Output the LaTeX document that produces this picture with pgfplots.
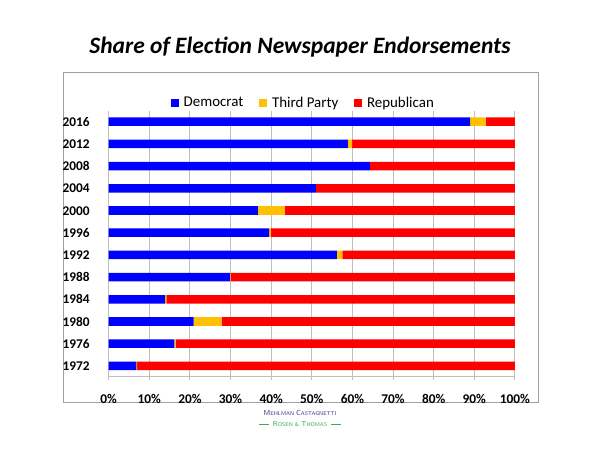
\documentclass[border=0pt]{standalone}
\usepackage{pgfplots}
\pgfplotsset{compat=1.18}
\usepackage{fontspec}
\setmainfont{Carlito}
\definecolor{dem}{HTML}{0000FF}
\definecolor{thd}{HTML}{FFC000}
\definecolor{rep}{HTML}{FF0000}
\definecolor{gridc}{HTML}{BFBFBF}
\definecolor{logob}{HTML}{3B3D8F}
\definecolor{logog}{HTML}{3AAA5A}
\pgfplotstableread{
idx D T R
0 6.8 0.2 93.0
1 16.2 0.3 83.5
2 20.9 6.9 72.2
3 13.9 0.3 85.8
4 29.9 0.1 70.0
5 56.2 1.3 42.5
6 39.5 0.4 60.1
7 36.7 6.6 56.7
8 51.0 0.0 49.0
9 64.3 0.0 35.7
10 58.9 1.0 40.1
11 89.0 3.8 7.2
}\data
\newcommand{\bigs}{\fontsize{5.4}{6}\selectfont}
\newcommand{\smls}{\fontsize{4.1}{5}\selectfont}
\begin{document}
\begin{tikzpicture}
\path[fill=white] (0,0) rectangle (450pt,337.5pt);
\draw[gray!75,line width=0.75pt] (47.25pt,35.25pt) rectangle (403.5pt,282.75pt);
\node[font=\fontsize{17.6}{20}\selectfont\bfseries\itshape] at (225pt,302.25pt) {Share of Election Newspaper Endorsements};
\begin{axis}[
  at={(81.5pt,54.75pt)}, anchor=south west,
  scale only axis, width=304.7pt, height=199.8pt,
  xbar stacked, bar width=6.4pt,
  xmin=0, xmax=100, ymin=-0.5, ymax=11.5,
  xtick={0,10,...,100},
  xticklabels={0\%,10\%,20\%,30\%,40\%,50\%,60\%,70\%,80\%,90\%,100\%},
  ytick={0,...,11},
  yticklabels={1972,1976,1980,1984,1988,1992,1996,2000,2004,2008,2012,2016},
  minor ytick={-0.5,0.5,...,11.5},
  tick align=outside,
  xtick style={draw=gridc, line width=0.75pt, /pgfplots/major tick length=2.5pt},
  ytick style={draw=none, /pgfplots/major tick length=0pt},
  minor tick style={draw=gridc, line width=0.75pt},
  minor tick length=2.5pt,
  axis x line*=bottom, axis y line*=left,
  axis line style={draw=gridc, line width=0.75pt, -},
  xmajorgrids, major grid style={draw=gridc, line width=0.75pt},
  /pgf/number format/assume math mode=true,
  xticklabel style={font=\fontsize{10}{12}\selectfont\bfseries, inner sep=0pt, anchor=base, yshift=-15.4pt},
  yticklabel style={font=\fontsize{10}{12}\selectfont\bfseries, inner sep=0pt, anchor=base east, yshift=-3.4pt, xshift=-9.75pt},
  legend columns=3,
  legend style={at={(0.5,1)}, anchor=center, yshift=5.7pt, xshift=-6pt, draw=none, fill=none,
    font=\fontsize{11.2}{13}\selectfont,
    /tikz/every odd column/.append style={column sep=1.5pt},
    /tikz/every even column/.append style={column sep=10pt}},
  legend image code/.code={\fill[#1] (0pt,-3pt) rectangle (6pt,3pt);},
]
\addplot[fill=dem, draw=none] table[x=D, y=idx] {\data};
\addplot[fill=thd, draw=none] table[x=T, y=idx] {\data};
\addplot[fill=rep, draw=none] table[x=R, y=idx] {\data};
\legend{Democrat, Third Party, Republican}
\end{axis}
\node[text=logob, inner sep=0pt, font=\sffamily\smls] at (225pt,27.75pt) {{\bigs M}EHLMAN {\bigs C}ASTAGNETTI};
\node[text=logog, inner sep=0pt, font=\sffamily\smls] (rt) at (225pt,19.5pt) {{\bigs R}OSEN \& {\bigs T}HOMAS};
\draw[logog, line width=0.5pt] ([xshift=-3pt]rt.west) -- ++(-7.5pt,0);
\draw[logog, line width=0.5pt] ([xshift=3pt]rt.east) -- ++(7.5pt,0);
\end{tikzpicture}
\end{document}
